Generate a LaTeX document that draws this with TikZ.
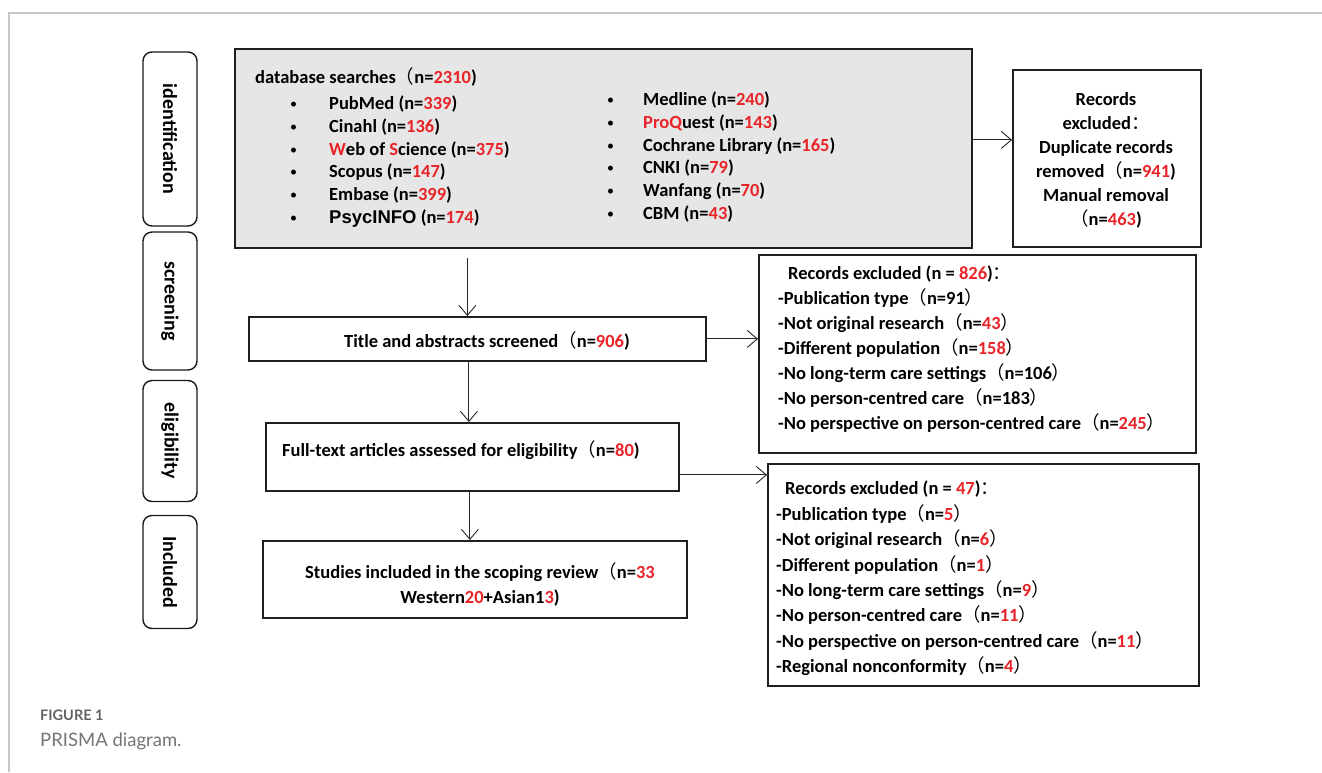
\documentclass[tikz,border=0pt]{standalone}
\usepackage{fontspec}
\setmainfont{Carlito}
\newfontfamily\cjkf{Noto Sans CJK SC}
\newfontfamily\arialf{Liberation Sans}
\newfontfamily\capf{Lato}
\usetikzlibrary{arrows.meta}
\definecolor{nred}{RGB}{232,36,40}
\definecolor{boxgray}{RGB}{231,230,230}
\definecolor{capgray}{RGB}{100,100,102}
\newcommand{\rn}[1]{\textcolor{nred}{#1}}
\newcommand{\lp}{{\cjkf\mdseries （}}
\newcommand{\rp}{{\cjkf\mdseries ）}}
\newcommand{\fc}{{\cjkf\mdseries ：}}
\newcommand{\bodyfont}{\bfseries\fontsize{18.5}{22}\selectfont}
\newcommand{\sidefont}{\bfseries\fontsize{20}{24}\selectfont}
\begin{document}
\begin{tikzpicture}[x=1pt,y=-1pt,
  box/.style={draw=black!88, line width=1.8, rectangle, inner sep=0, anchor=north west},
  side/.style={draw=black!90, line width=1.4, rounded corners=9, rectangle, rotate=-90, minimum height=54, inner sep=0, font=\sidefont},
  txt/.style={inner sep=0, anchor=base west, font=\bodyfont},
  ctxt/.style={inner sep=0, anchor=base, font=\bodyfont},
  bul/.style={inner sep=0, anchor=base west, font=\fontsize{14}{16}\selectfont},
  arr/.style={-{Straight Barb[length=10pt,width=17pt]}, line width=0.9, draw=black!85},
]
\useasboundingbox (0,0) rectangle (1322,772);
\draw[black!22, line width=1.3] (9,772) -- (9,13) -- (1322,13);

% stage labels
\node[side, minimum width=174] (sid) at (170,139) {identification};
\node[side, minimum width=138] (sscr) at (170,301) {screening};
\node[side, minimum width=121] (selig) at (170,441) {eligibility};
\node[side, minimum width=113] (sincl) at (170,572) {Included};

% boxes
\node[box, fill=boxgray, minimum width=737, minimum height=199] (db) at (234,48) {};
\node[box, minimum width=188, minimum height=177] (ex1) at (1012,69) {};
\node[box, minimum width=457, minimum height=44] (title) at (248,316) {};
\node[box, minimum width=413, minimum height=68] (full) at (265,422) {};
\node[box, minimum width=424, minimum height=77] (stud) at (262,540) {};
\node[box, minimum width=437, minimum height=198] (ex2) at (758,254) {};
\node[box, minimum width=431, minimum height=222] (ex3) at (767,463) {};

% database box text
\node[txt] (dbh) at (255,83.5) {database searches\lp n=\rn{2310})};
\foreach \tx [count=\i from 0] in {
  {PubMed (n=\rn{339})},
  {Cinahl (n=\rn{136})},
  {\rn{W}eb of \rn{S}cience (n=\rn{375})},
  {Scopus (n=\rn{147})},
  {Embase (n=\rn{399})},
  {{\arialf PsycINFO} (n=\rn{174})}}{
  \node[bul] (lb\i) at (290,108.5+22.8*\i) {•};
  \node[txt] (lt\i) at (329,109.5+22.8*\i) {\tx};
}
\foreach \tx [count=\i from 0] in {
  {Medline (n=\rn{240})},
  {\rn{Pro}\rn{Q}uest (n=\rn{143})},
  {Cochrane Library (n=\rn{165})},
  {CNKI (n=\rn{79})},
  {Wanfang (n=\rn{70})},
  {CBM (n=\rn{43})}}{
  \node[bul] (rb\i) at (607,104.5+22.8*\i) {•};
  \node[txt] (rt\i) at (643,105.5+22.8*\i) {\tx};
}

% duplicates box text
\foreach \tx [count=\i from 0] in {
  {Records},
  {excluded\fc},
  {Duplicate records},
  {removed\lp n=\rn{941})},
  {Manual removal},
  {\lp n=\rn{463})}}{
  \node[ctxt] (et\i) at (1106,105.5+23.9*\i) {\tx};
}

% screening exclusions
\node[txt] (s2h) at (788,279.5) {Records excluded (n = \rn{826})\fc};
\foreach \tx [count=\i from 0] in {
  {-Publication type\lp n=91\rp},
  {-Not original research\lp n=\rn{43}\rp},
  {-Different population\lp n=\rn{158}\rp},
  {-No long-term care settings\lp n=106\rp},
  {-No person-centred care\lp n=183\rp},
  {-No perspective on person-centred care\lp n=\rn{245}\rp}}{
  \node[txt] (s2\i) at (778,304.5+25*\i) {\tx};
}

% eligibility exclusions
\node[txt] (s3h) at (785,494.5) {Records excluded (n = \rn{47})\fc};
\foreach \tx [count=\i from 0] in {
  {-Publication type\lp n=\rn{5}\rp},
  {-Not original research\lp n=\rn{6}\rp},
  {-Different population\lp n=\rn{1}\rp},
  {-No long-term care settings\lp n=\rn{9}\rp},
  {-No person-centred care\lp n=\rn{11}\rp},
  {-No perspective on person-centred care\lp n=\rn{11}\rp},
  {-Regional nonconformity\lp n=\rn{4}\rp}}{
  \node[txt] (s3\i) at (776,520.5+25.33*\i) {\tx};
}

% main flow texts
\node[ctxt] (titlet) at (487,347.5) {Title and abstracts screened\lp n=\rn{906})};
\node[txt] (fullt) at (282,456.5) {Full-text articles assessed for eligibility\lp n=\rn{80})};
\node[ctxt] (studa) at (480,578.5) {Studies included in the scoping review\lp n=\rn{33}};
\node[ctxt] (studb) at (480,603.5) {Western\rn{20}+Asian1\rn{3})};

% connectors
\draw[arr] ([yshift=8.5pt]db.east) -- ([yshift=8.5pt]db.east -| ex1.west);
\draw[arr] ([xshift=-136pt,yshift=-9pt]db.south) -- ([xshift=-136pt]db.south |- title.north);
\draw[arr] (title.east) -- (title.east -| ex2.west);
\draw[arr] ([xshift=-8.5pt]title.south) -- ([xshift=-8.5pt]title.south |- full.north);
\draw[arr] ([yshift=-18pt]full.east) -- ([yshift=-18pt]full.east -| ex3.west);
\draw[arr] ([xshift=-2.5pt]full.south) -- ([xshift=-2.5pt]full.south |- stud.north);

% caption
\node[inner sep=0, anchor=base west, font=\capf\bfseries\fontsize{14.5}{16}\selectfont, text=capgray] (figl) at (40,720) {FIGURE 1};
\node[inner sep=0, anchor=base west, font=\capf\fontsize{18.5}{22}\selectfont, text=capgray!90] (figc) at (40,746) {PRISMA diagram.};
\end{tikzpicture}
\end{document}
